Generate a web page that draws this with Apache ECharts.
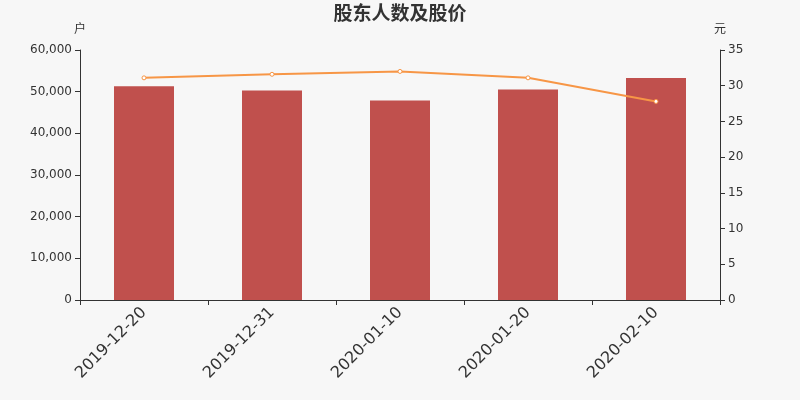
<!DOCTYPE html>
<html>
<head>
<meta charset="utf-8">
<script src="https://cdn.jsdelivr.net/npm/echarts@6/dist/echarts.min.js"></script>
<style>
  html, body { margin: 0; padding: 0; background: #f7f7f7; }
  #main { width: 800px; height: 400px; }
</style>
</head>
<body>
<div id="main"></div>
<script>
var dates = ['2019-12-20', '2019-12-31', '2020-01-10', '2020-01-20', '2020-02-10'];
var holders = [51300, 50300, 47900, 50500, 53300];
var prices = [31.1, 31.6, 32.0, 31.1, 27.8];

var chart = echarts.init(document.getElementById('main'));

var option = {
    backgroundColor: '#f7f7f7',
    textStyle: { fontFamily: 'DejaVu Sans, Noto Sans CJK SC' },
    title: {
        text: '股东人数及股价',
        left: 'center',
        top: -2,
        textStyle: { fontSize: 19, fontWeight: 'bold', color: '#333', fontFamily: 'Noto Sans CJK SC' }
    },
    grid: { left: 80, right: 80, top: 50, bottom: 100 },
    xAxis: {
        type: 'category',
        data: dates,
        axisLine: { lineStyle: { color: '#333' } },
        axisTick: { show: true, alignWithLabel: false },
        axisLabel: { rotate: 45, fontSize: 16, color: '#333', margin: 10 }
    },
    yAxis: [{
        type: 'value',
        name: '户',
        min: 0,
        max: 60000,
        interval: 10000,
        nameTextStyle: { color: '#333', fontSize: 12, align: 'center' },
        nameGap: 14,
        splitLine: { show: false },
        axisLine: { show: true, lineStyle: { color: '#333' } },
        axisTick: { show: true },
        axisLabel: { color: '#333', fontSize: 12 }
    }, {
        type: 'value',
        name: '元',
        min: 0,
        max: 35,
        interval: 5,
        nameTextStyle: { color: '#333', fontSize: 12, align: 'center' },
        nameGap: 14,
        splitLine: { show: false },
        axisLine: { show: true, lineStyle: { color: '#333' } },
        axisTick: { show: true },
        axisLabel: { color: '#333', fontSize: 12 }
    }],
    series: [{
        name: '股东人数',
        type: 'bar',
        data: holders,
        barWidth: 60,
        itemStyle: { color: '#c0504d' }
    }, {
        name: '股价',
        type: 'line',
        yAxisIndex: 1,
        data: prices,
        symbol: 'circle',
        symbolSize: 4,
        lineStyle: { color: '#f79646', width: 2 },
        itemStyle: { color: '#fff', borderColor: '#f79646', borderWidth: 1 }
    }]
};
chart.setOption(option);
</script>
</body>
</html>
